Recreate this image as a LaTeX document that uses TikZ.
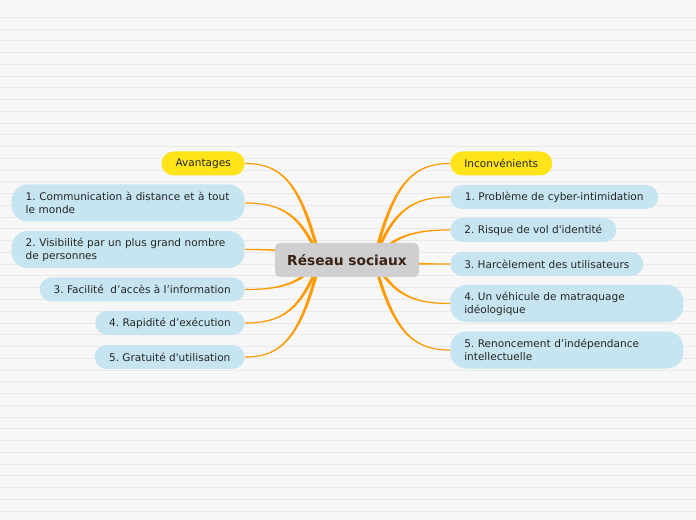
\documentclass[tikz,border=0pt]{standalone}
\usepackage{fontspec}
\setmainfont{DejaVu Sans}[Ligatures=TeXOff]
\frenchspacing
\usetikzlibrary{calc}
\definecolor{paper}{HTML}{F7F7F7}
\definecolor{ruleline}{HTML}{E9E9E9}
\definecolor{branch}{HTML}{FF9A00}
\definecolor{headyellow}{HTML}{FFE41A}
\definecolor{leafblue}{HTML}{C6E5F0}
\definecolor{rootgray}{HTML}{CFCFD1}
\definecolor{roottext}{HTML}{3B2314}

\begin{document}
\begin{tikzpicture}[x=0.75pt, y=-0.75pt,
    root/.style={fill=rootgray, rounded corners=3.75pt, minimum width=108pt, minimum height=25.5pt, font=\fontsize{10.3}{12}\selectfont\bfseries, text=roottext},
    leaf/.style={fill=leafblue, rounded corners=9pt, minimum height=18pt, inner xsep=10.5pt, inner ysep=4pt, font=\fontsize{7.9}{9.75}\selectfont, text=black!85},
    head/.style={leaf, fill=headyellow},
    tall/.style={leaf, rounded corners=12pt, minimum height=27.75pt, text width=153.75pt, align=left},
    rule/.style={ruleline, line width=0.75pt}
]
    % paper
    \fill[paper] (0,0) rectangle (696,520);
    \useasboundingbox (0,0) rectangle (696,520);
    \foreach \i in {0,...,42}
        \draw[rule] (0,{17.5+11.75*\i}) -- (696,{17.5+11.75*\i});

    % left side
    \node[head, minimum width=61.5pt, anchor=east] (adv) at (245,163.5) {Avantages};
    \node[tall, anchor=east] (a1) at (245,203) {\mbox{1. Communication à distance et à tout}\\le monde};
    \node[tall, anchor=east] (a2) at (245,249.5) {\mbox{2. Visibilité par un plus grand nombre}\\de personnes};
    \node[leaf, minimum width=153.75pt, anchor=east] (a3) at (245,289.5) {3. Facilité~ d’accès à l’information};
    \node[leaf, minimum width=111.75pt, anchor=east] (a4) at (245,323) {4. Rapidité d’exécution};
    \node[leaf, minimum width=112.5pt, anchor=east] (a5) at (245,357) {5. Gratuité d'utilisation};

    % right side
    \node[head, minimum width=76.5pt, anchor=west] (inc) at (450,163.5) {Inconvénients};
    \node[leaf, minimum width=156pt, anchor=west] (i1) at (450,197) {1. Problème de cyber-intimidation};
    \node[leaf, minimum width=124.5pt, anchor=west] (i2) at (450,230) {2. Risque de vol d'identité};
    \node[leaf, minimum width=144.75pt, anchor=west] (i3) at (450,264) {3. Harcèlement des utilisateurs};
    \node[tall, anchor=west] (i4) at (450,303.5) {\mbox{4. Un véhicule de matraquage}\\idéologique};
    \node[tall, anchor=west] (i5) at (450,350) {\mbox{5. Renoncement d’indépendance}\\intellectuelle};

    % branches (tapered)
    \coordinate (lo) at (320,260);
    \coordinate (ro) at (374,260);
    \foreach \n/\dy in {adv/-96.5, a1/-57, a2/-10.5, a3/29.5, a4/63, a5/97}{
        \pgfmathsetmacro\cy{0.8*\dy}
        \pgfmathsetmacro\len{veclen(\cy,19)}
        \pgfmathsetmacro\ox{1.6*\cy/\len}
        \pgfmathsetmacro\oy{1.6*19/\len}
        \fill[branch] ($(lo)+(\ox,\oy)$) .. controls +(-19,\cy) and +(37,0) .. ($(\n.east)+(0,0.6)$)
            -- ($(\n.east)+(0,-0.6)$) .. controls +(37,0) and +(-19,\cy) .. ($(lo)-(\ox,\oy)$) -- cycle;
    }
    \foreach \n/\dy in {inc/-96.5, i1/-63, i2/-30, i3/4, i4/43.5, i5/90}{
        \pgfmathsetmacro\cy{0.8*\dy}
        \pgfmathsetmacro\len{veclen(\cy,19)}
        \pgfmathsetmacro\ox{1.6*\cy/\len}
        \pgfmathsetmacro\oy{-1.6*19/\len}
        \fill[branch] ($(ro)+(\ox,\oy)$) .. controls +(19,\cy) and +(-37,0) .. ($(\n.west)+(0,-0.6)$)
            -- ($(\n.west)+(0,0.6)$) .. controls +(-37,0) and +(19,\cy) .. ($(ro)-(\ox,\oy)$) -- cycle;
    }

    % centre
    \node[root] (net) at (347,260) {Réseau sociaux};
\end{tikzpicture}
\end{document}
